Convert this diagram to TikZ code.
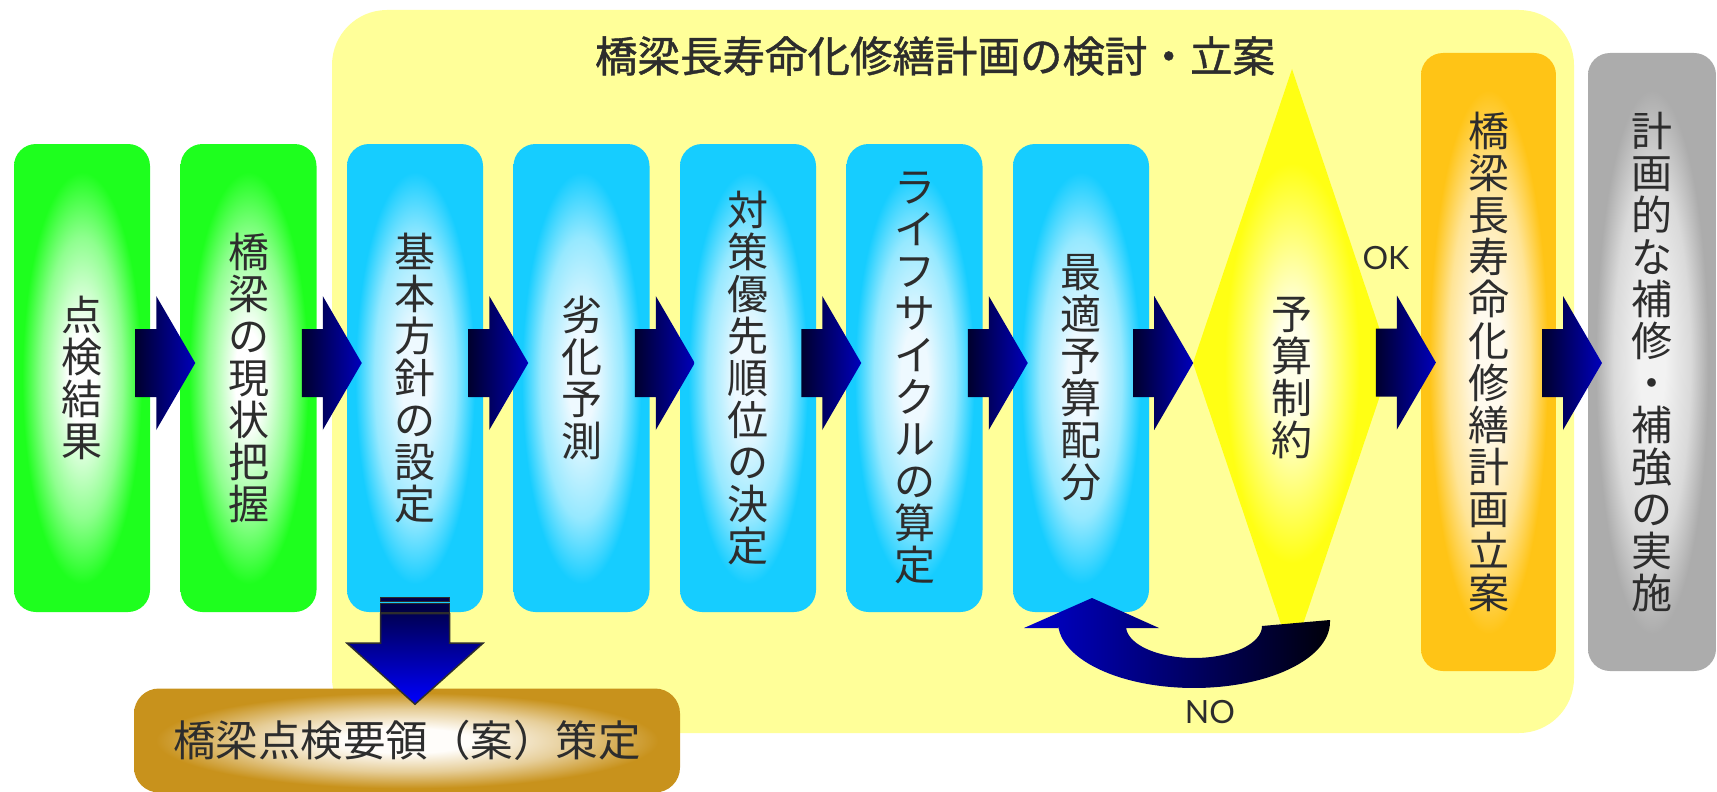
\documentclass[tikz,border=0pt]{standalone}
\usepackage{fontspec}
\setmainfont{Noto Sans CJK JP}
\newfontfamily\titlefont{Noto Sans CJK JP}[FakeBold=1]
\newfontfamily\latinthin{Lato}
\usetikzlibrary{calc}
\definecolor{cGreen}{RGB}{30,255,30}
\definecolor{cBlue}{RGB}{22,205,255}
\definecolor{cBlueCore}{RGB}{238,249,255}
\definecolor{cOrange}{RGB}{255,196,22}
\definecolor{cOrangeCore}{RGB}{255,250,238}
\definecolor{cGray}{RGB}{172,172,172}
\definecolor{cGrayCore}{RGB}{242,242,242}
\definecolor{cBrown}{RGB}{200,146,28}
\definecolor{cBrownCore}{RGB}{255,253,250}
\definecolor{cYellowBg}{RGB}{255,255,153}
\definecolor{cDia}{RGB}{255,255,20}
\definecolor{cDiaCore}{RGB}{255,255,232}
\definecolor{cTxt}{RGB}{45,45,45}
\definecolor{cArrL}{RGB}{0,0,45}
\definecolor{cArrR}{RGB}{0,0,188}
\definecolor{cDownTop}{RGB}{0,0,85}
\definecolor{cDownBot}{RGB}{0,0,255}
\definecolor{cBar}{RGB}{0,0,70}
\definecolor{cOut}{RGB}{45,45,45}
\definecolor{cNoL}{RGB}{0,0,205}
\definecolor{cNoM}{RGB}{0,0,155}
\definecolor{cNoR}{RGB}{0,0,10}
\pgfdeclareradialshading{greenglow}{\pgfpoint{0bp}{0bp}}{color(0bp)=(white); color(5bp)=(white); color(15bp)=(cGreen!50!white); color(22bp)=(cGreen); color(50bp)=(cGreen)}
\pgfdeclareradialshading{blueglow}{\pgfpoint{0bp}{0bp}}{color(0bp)=(cBlueCore); color(5bp)=(cBlueCore); color(15bp)=(cBlue!45!white); color(22bp)=(cBlue); color(50bp)=(cBlue)}
\pgfdeclareradialshading{orangeglow}{\pgfpoint{0bp}{0bp}}{color(0bp)=(cOrangeCore); color(5bp)=(cOrangeCore); color(15bp)=(cOrange!45!white); color(22bp)=(cOrange); color(50bp)=(cOrange)}
\pgfdeclareradialshading{grayglow}{\pgfpoint{0bp}{0bp}}{color(0bp)=(cGrayCore); color(5bp)=(cGrayCore); color(15bp)=(cGray!45!white); color(22bp)=(cGray); color(50bp)=(cGray)}
\pgfdeclareradialshading{brownglow}{\pgfpoint{0bp}{0bp}}{color(0bp)=(cBrownCore); color(6bp)=(cBrownCore); color(15bp)=(cBrown!45!white); color(23bp)=(cBrown); color(50bp)=(cBrown)}
\pgfdeclareradialshading{diaglow}{\pgfpoint{0bp}{0bp}}{color(0bp)=(cDiaCore); color(4bp)=(cDiaCore); color(17bp)=(cDia); color(50bp)=(cDia)}
\newcommand\vfont{\fontsize{41pt}{42pt}\selectfont}
\newcommand\hfont{\fontsize{42.5pt}{46pt}\selectfont}
\begin{document}
\begin{tikzpicture}[x=1pt,y=-1pt,
  stepbox/.style={shade, rounded corners=22pt, minimum width=136pt, minimum height=468pt,
    inner sep=0pt, align=center, text=cTxt, font=\vfont},
  greenbox/.style={stepbox, shading=greenglow},
  bluebox/.style={stepbox, shading=blueglow},
  blockarrow/.style={left color=cArrL, right color=cArrR},
  lbl/.style={text=cTxt, font=\latinthin\fontsize{32pt}{36pt}\selectfont, inner sep=0pt}
]
\useasboundingbox (0,0) rectangle (1717,792);
% background region
\fill[cYellowBg, rounded corners=55pt] (332,10) rectangle (1574,733);
\node[text=cTxt, font=\titlefont\hfont, inner sep=0pt] (title) at (935,56) {橋梁長寿命化修繕計画の検討・立案};
% boxes
\node[greenbox] (b1) at (82,378) {点\\検\\結\\果};
\node[greenbox] (b2) at (248.5,378) {橋\\梁\\の\\現\\状\\把\\握};
\node[bluebox] (b3) at (415,378) {基\\本\\方\\針\\の\\設\\定};
\node[bluebox] (b4) at (581.5,378) {劣\\化\\予\\測};
\node[bluebox] (b5) at (748,378) {対\\策\\優\\先\\順\\位\\の\\決\\定};
\node[bluebox] (b6) at (914.5,378) {ラ\\イ\\フ\\サ\\イ\\ク\\ル\\の\\算\\定};
\node[bluebox] (b7) at (1081,378) {最\\適\\予\\算\\配\\分};
% diamond
\coordinate (dtop) at (1292,69);
\coordinate (dleft) at (1193,363);
\coordinate (dright) at (1391,363);
\coordinate (dbot) at (1292,657);
\shade[shading=diaglow] (dtop) -- (dright) -- (dbot) -- (dleft) -- cycle;
\node[text=cTxt, font=\vfont, align=center, inner sep=0pt] (dtext) at (1292,378) {予\\算\\制\\約};
% right boxes
\node[stepbox, shading=orangeglow, minimum width=135pt, minimum height=618pt] (plan) at (1488.5,362)
  {橋\\梁\\長\\寿\\命\\化\\修\\繕\\計\\画\\立\\案};
\node[stepbox, shading=grayglow, minimum width=128pt, minimum height=618pt] (impl) at (1652,362)
  {計\\画\\的\\な\\補\\修\\・\\補\\強\\の\\実\\施};
% brown box
\node[shade, shading=brownglow, rounded corners=25pt, minimum width=546pt, minimum height=104pt,
  inner sep=0pt, text=cTxt, font=\hfont] (manual) at (407,740.5) {橋梁点検要領（案）策定};
% arrow anchors
\foreach \a/\b in {b1/b2,b2/b3,b3/b4,b4/b5,b5/b6,b6/b7}
  \coordinate (m\a) at ($(\a.east)!0.5!(\b.west)+(0,-15)$);
\coordinate (mb7) at ($(b7.east)+(14,-15)$);
\coordinate (md) at ($(dright)!0.5!(plan.west)$);
\coordinate (mp) at ($(plan.east)!0.5!(impl.west)+(0,1)$);
\foreach \m in {mb1,mb2,mb3,mb4,mb5,mb6,mb7,md,mp}
  \shade[blockarrow, shift={(\m)}] (-30,-34) -- (-9,-34) -- (-9,-67) -- (30,0) -- (-9,67) -- (-9,34) -- (-30,34) -- cycle;
\node[lbl] (ok) at (1386,258) {OK};
% down arrow to manual
\begin{scope}[shift={(b3.south)}]
  \filldraw[fill=cBar, draw=cOut, line width=1.2pt] (-34.5,-15) rectangle (34.5,-10.5);
  \filldraw[fill=cBar, draw=cOut, line width=1.2pt] (-34.5,-8.5) rectangle (34.5,0);
  \shade[top color=cDownTop, bottom color=cDownBot, draw=cOut, line width=1.5pt]
    (-34.5,1.5) -- (34.5,1.5) -- (34.5,31) -- (68,31) -- (0,92) -- (-68,31) -- (-34.5,31) -- cycle;
\end{scope}
% NO loop arrow
\shade[left color=cNoL, middle color=cNoM, right color=cNoR]
  (1159,628) -- (1126,628)
  -- plot[domain=180:360, samples=50] ({1194+68*cos(\x)},{626-32*sin(\x)})
  -- (1330,620)
  -- plot[domain=0:-180, samples=60] ({1194+136*cos(\x)},{622-66*sin(\x)})
  -- (1058,628) -- (1024,628) -- (1092,598) -- cycle;
\node[lbl] (no) at (1210,712) {NO};
\end{tikzpicture}
\end{document}
